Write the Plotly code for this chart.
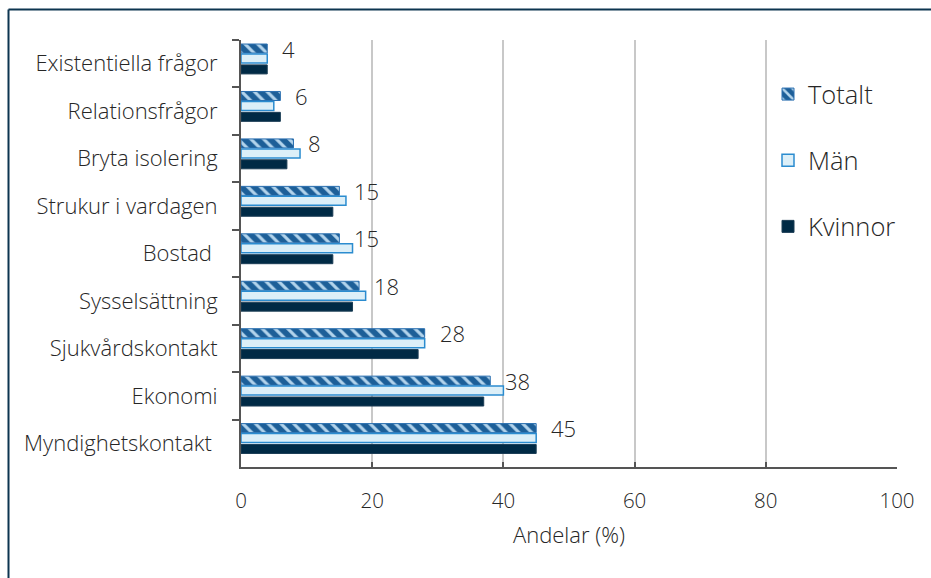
import plotly.graph_objects as go

categories = ["Existentiella frågor", "Relationsfrågor", "Bryta isolering",
              "Strukur i vardagen", "Bostad\u00a0", "Sysselsättning",
              "Sjukvårdskontakt", "Ekonomi", "Myndighetskontakt\u00a0"]
totalt = [4, 6, 8, 15, 15, 18, 28, 38, 45]
man = [4, 5, 9, 16, 17, 19, 28, 40, 45]
kvinnor = [4, 6, 7, 14, 14, 17, 27, 37, 45]
x_ticks = [0, 20, 40, 60, 80, 100]

FONT = "Open Sans"
TXT = "#262626"
W = 300

fig = go.Figure()
bw = 0.19
fig.add_trace(go.Bar(
    name="Totalt", y=categories, x=totalt, orientation="h",
    width=bw, offset=-0.415, legendgroup="a",
    marker=dict(color="#1d5f98",
                line=dict(color="#2a6fb0", width=1),
                pattern=dict(shape="\\", bgcolor="#1d5f98", fgcolor="#b3d4ec",
                             size=9, solidity=0.35, fillmode="replace")),
))
fig.add_trace(go.Bar(
    name="Män", y=categories, x=man, orientation="h",
    width=bw, offset=-0.205, legendgroup="b",
    marker=dict(color="#dceff8", line=dict(color="#2b8ccf", width=1.5)),
))
fig.add_trace(go.Bar(
    name="Kvinnor", y=categories, x=kvinnor, orientation="h",
    width=bw, offset=0.025, legendgroup="c",
    marker=dict(color="#002a45", line=dict(color="#1b3d55", width=1)),
))

for i, v in enumerate(totalt):
    fig.add_annotation(x=v, y=i - 0.32, xref="x", yref="y", text=str(v),
                       showarrow=False, xanchor="left", yanchor="middle",
                       xshift=13, font=dict(family=FONT, size=22, color=TXT, weight=W))

# outer frame (top and left edges visible)
L, R, T, B = 241, 34, 40, 111
pw, ph = 931 - L - R, 578 - T - B
def px(x): return (x - L) / pw
def py(y): return (578 - B - y) / ph
fig.add_shape(type="line", xref="paper", yref="paper",
              x0=px(8.5), x1=px(935), y0=py(9.5), y1=py(9.5),
              line=dict(color="#0d3550", width=2))
fig.add_shape(type="line", xref="paper", yref="paper",
              x0=px(8.5), x1=px(8.5), y0=py(9.5), y1=py(582),
              line=dict(color="#0d3550", width=2))

fig.update_layout(
    width=931, height=578,
    margin=dict(l=L, r=R, t=T, b=B),
    paper_bgcolor="white", plot_bgcolor="white",
    barmode="overlay",
    font=dict(family=FONT, color=TXT, weight=W),
    legend=dict(x=px(768), y=py(71), xanchor="left", yanchor="top",
                font=dict(family=FONT, size=25.5, color=TXT, weight=W),
                tracegroupgap=30, bgcolor="rgba(0,0,0,0)"),
    xaxis=dict(range=[0, 100], tickvals=x_ticks, ticktext=[str(t) for t in x_ticks],
               showgrid=True, gridcolor="#c8c8c8", gridwidth=2,
               showline=True, linecolor="#555555", linewidth=2,
               ticks="inside", ticklen=5, tickwidth=2, tickcolor="#555555",
               tickfont=dict(family=FONT, size=20.5, color=TXT, weight=W),
               ticklabelstandoff=14,
               zeroline=False,
               title=dict(text="Andelar (%)",
                          font=dict(family=FONT, size=22, color=TXT, weight=W),
                          standoff=15)),
    yaxis=dict(type="category", range=[8.5, -0.5], tickson="boundaries",
               showline=True, linecolor="#555555", linewidth=2,
               ticks="outside", ticklen=7, tickwidth=2, tickcolor="#555555",
               tickfont=dict(family=FONT, size=22, color=TXT, weight=W),
               showgrid=False, ticklabelstandoff=17),
)

fig.write_html("out.html")
